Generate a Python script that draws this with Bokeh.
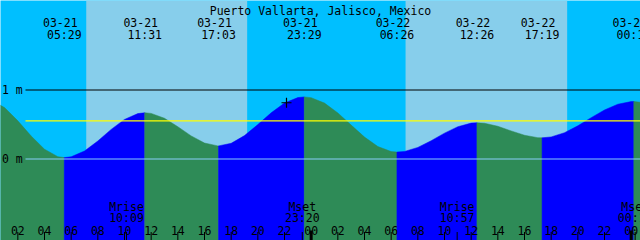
from bokeh.plotting import figure
from bokeh.models import Range1d, ColumnDataSource
from bokeh.core.properties import value
from bokeh.embed import file_html
from bokeh.resources import INLINE

# ---------------- data (hours counted from 03-21 00:00) ----------------
title = "Puerto Vallarta, Jalisco, Mexico"

# tide extremes (first one is just before the chart's left edge)
ext_times = [-0.5, 5.483, 11.517, 17.05, 23.483, 30.433, 36.433, 41.317, 48.2]
ext_heights = [0.87, 0.02, 0.67, 0.19, 0.90, 0.10, 0.525, 0.307, 0.833]
ext_dates = ["03-20", "03-21", "03-21", "03-21", "03-21", "03-22", "03-22", "03-22", "03-23"]
ext_clock = ["23:30", "05:29", "11:31", "17:03", "23:29", "06:26", "12:26", "17:19", "00:12"]

# tide height, hourly
hour_times = list(range(0, 50))
hour_heights = [0.855, 0.745, 0.553, 0.333, 0.142, 0.034, 0.032, 0.116, 0.261, 0.429,
                0.574, 0.658, 0.661, 0.590, 0.468, 0.335, 0.231, 0.190, 0.227, 0.339,
                0.499, 0.669, 0.811, 0.890, 0.889, 0.810, 0.668, 0.492, 0.318, 0.181,
                0.108, 0.109, 0.168, 0.265, 0.375, 0.468, 0.520, 0.518, 0.474, 0.407,
                0.344, 0.309, 0.320, 0.381, 0.481, 0.599, 0.711, 0.794, 0.832, 0.815]

sunrise = [7.13, 31.08]
sunset = [19.2, 43.2]

moon_times = [10.15, 23.333, 34.95, 48.3]
moon_events = ["Mrise", "Mset", "Mrise", "Mset"]
moon_clock = ["10:09", "23:20", "10:57", "00:18"]

hour_tick_times = [2, 4, 6, 8, 10, 12, 14, 16, 18, 20, 22, 24,
                   26, 28, 30, 32, 34, 36, 38, 40, 42, 44, 46, 48]
hour_tick_labels = ["02", "04", "06", "08", "10", "12", "14", "16", "18", "20", "22", "00",
                    "02", "04", "06", "08", "10", "12", "14", "16", "18", "20", "22", "00"]
midnight_times = [24, 48]

level_values = [1.0, 0.0]
level_labels = ["1 m", "0 m"]
mean_level = 0.553

now_time = [22.15]
now_height = [0.815]

# ---------------- layout ----------------
W, H = 640, 240
T0 = 0.7
PXH = W / 48.0
Y0 = 158.5
PXM = 69.0


def dx(px):
    return T0 + px / PXH


def dy(py):
    return (Y0 - py) / PXM


YMIN, YMAX = dy(H), dy(0)
XMIN, XMAX = T0, T0 + 48

NIGHT = "#00BFFF"
DAY = "#87CEEB"
FALL = "#2E8B57"
RISE = "#0000FF"
FONT = value("DejaVu Sans Mono")
FS = "11.5px"

p = figure(width=W, height=H, x_range=Range1d(XMIN, XMAX), y_range=Range1d(YMIN, YMAX),
           x_axis_type=None, y_axis_type=None, toolbar_location=None,
           output_backend="svg", min_border=0)
p.grid.visible = False
p.outline_line_color = None
p.background_fill_color = NIGHT
p.border_fill_color = NIGHT

# day spans
p.quad(left=sunrise, right=sunset, bottom=YMIN, top=YMAX, fill_color=DAY, line_color=None)

# tide curve, split into rising / falling parts
seg_xs, seg_ys, seg_col = [], [], []
for i in range(len(ext_times)):
    t_a, h_a = ext_times[i], ext_heights[i]
    if i + 1 < len(ext_times):
        t_b, h_b = ext_times[i + 1], ext_heights[i + 1]
        inner = [(t, h) for t, h in zip(hour_times, hour_heights) if t_a < t < t_b]
        pts = [(t_a, h_a)] + inner + [(t_b, h_b)]
        rising = h_b > h_a
    else:
        inner = [(t, h) for t, h in zip(hour_times, hour_heights) if t > t_a]
        pts = [(t_a, h_a)] + inner
        rising = pts[-1][1] > h_a
    xs = [q[0] for q in pts]
    ys = [q[1] for q in pts]
    xs = xs + [xs[-1], xs[0]]
    ys = ys + [YMIN, YMIN]
    seg_xs.append(xs)
    seg_ys.append(ys)
    seg_col.append(RISE if rising else FALL)

p.patches(xs=seg_xs, ys=seg_ys, fill_color=seg_col, line_color=seg_col, line_width=0.5)

# level lines
p.segment(x0=dx(25), x1=XMAX, y0=level_values[0], y1=level_values[0], line_color="black", line_width=1)
p.segment(x0=dx(25), x1=XMAX, y0=level_values[1], y1=level_values[1], line_color="#87CEFA", line_width=1.2)
p.segment(x0=dx(25), x1=XMAX, y0=mean_level, y1=mean_level, line_color="#FFFF00", line_width=1.3)

p.text(x=[dx(1.5)] * len(level_values), y=level_values, text=level_labels, text_font=FONT,
       text_font_size=FS, text_align="left", text_baseline="middle", text_color="black")

# current-time mark
p.scatter(x=now_time, y=now_height, marker="cross", size=10, line_color="black", line_width=1.2)

# title
p.text(x=[dx(320)], y=[dy(10)], text=[title], text_font=FONT, text_font_size=FS,
       text_align="center", text_baseline="alphabetic", text_color="black")

# extreme labels
lab = ColumnDataSource(dict(x=ext_times[1:], d=ext_dates[1:], c=ext_clock[1:]))
p.text(x="x", y=dy(22), text="d", source=lab, x_offset=-4, text_font=FONT, text_font_size=FS,
       text_align="center", text_baseline="alphabetic", text_color="black")
p.text(x="x", y=dy(34), text="c", source=lab, text_font=FONT, text_font_size=FS,
       text_align="center", text_baseline="alphabetic", text_color="black")

# moon labels
moon = ColumnDataSource(dict(x=moon_times, e=moon_events, c=moon_clock))
p.text(x="x", y=dy(206), text="e", source=moon, text_font=FONT, text_font_size=FS,
       text_align="center", text_baseline="alphabetic", text_color="black")
p.text(x="x", y=dy(217.5), text="c", source=moon, text_font=FONT, text_font_size=FS,
       text_align="center", text_baseline="alphabetic", text_color="black")

# hour labels and ticks
p.text(x=hour_tick_times, y=dy(229.5), text=hour_tick_labels, text_font=FONT, text_font_size=FS,
       text_align="center", text_baseline="alphabetic", text_color="black")
p.segment(x0=hour_tick_times, x1=hour_tick_times, y0=dy(231.5), y1=YMIN, line_color="black", line_width=1)
p.segment(x0=moon_times, x1=moon_times, y0=dy(231.5), y1=YMIN, line_color="black", line_width=1)
p.segment(x0=midnight_times, x1=midnight_times, y0=dy(230), y1=YMIN, line_color="black", line_width=3)

open("out.html", "w").write(file_html(p, INLINE))
